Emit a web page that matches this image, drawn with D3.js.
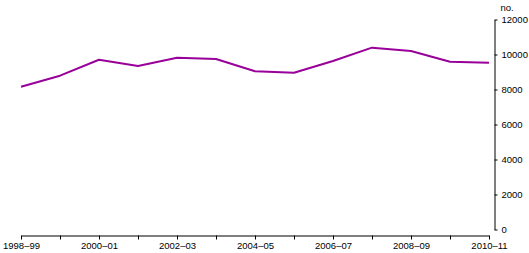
<!DOCTYPE html>
<html>
<head>
<meta charset="utf-8">
<script src="https://cdn.jsdelivr.net/npm/d3@7"></script>
<style>
  html, body { margin: 0; padding: 0; background: #fff; }
  svg { display: block; }
  .axis text { font-family: "Liberation Sans", Arial, sans-serif; font-size: 9.5px; fill: #000; }
  .axis path, .axis line { stroke: #000; stroke-width: 1; }
</style>
</head>
<body>
<div id="chart"></div>
<script>
// financial years on the x axis
const years = ["1998-99", "1999-00", "2000-01", "2001-02", "2002-03", "2003-04", "2004-05",
  "2005-06", "2006-07", "2007-08", "2008-09", "2009-10", "2010-11"];
// number per year
const counts = [8160, 8790, 9700, 9340, 9820, 9740, 9040, 8960, 9630, 10390, 10200, 9590, 9530];
const yTicks = [0, 2000, 4000, 6000, 8000, 10000, 12000];

const width = 529, height = 253;

const svg = d3.select("#chart").append("svg")
  .attr("width", width)
  .attr("height", height);

const x = d3.scalePoint()
  .domain(years)
  .range([21, 489]);

const y = d3.scaleLinear()
  .domain([0, 12000])
  .range([229.5, 19.5]);

// x axis, labels on every second year, en dash like the original
const xAxis = d3.axisBottom(x)
  .tickSize(4)
  .tickSizeOuter(0)
  .tickPadding(3)
  .tickFormat((d, i) => i % 2 === 0 ? d.replace("-", "\u2013") : "");

svg.append("g")
  .attr("class", "axis x-axis")
  .attr("transform", "translate(0,235.5)")
  .call(xAxis);

// y axis on the right side
const yAxis = d3.axisRight(y)
  .tickValues(yTicks)
  .tickSize(3)
  .tickSizeOuter(0)
  .tickPadding(4)
  .tickFormat(d3.format("d"));

svg.append("g")
  .attr("class", "axis y-axis")
  .attr("transform", "translate(494.5,0)")
  .call(yAxis);

svg.select(".y-axis").append("text")
  .attr("x", 6)
  .attr("y", 11)
  .attr("text-anchor", "start")
  .text("no.");

const line = d3.line()
  .x((d, i) => x(years[i]))
  .y(d => y(d));

svg.append("path")
  .datum(counts)
  .attr("fill", "none")
  .attr("stroke", "#990099")
  .attr("stroke-width", 2)
  .attr("stroke-linejoin", "round")
  .attr("d", line);
</script>
</body>
</html>
